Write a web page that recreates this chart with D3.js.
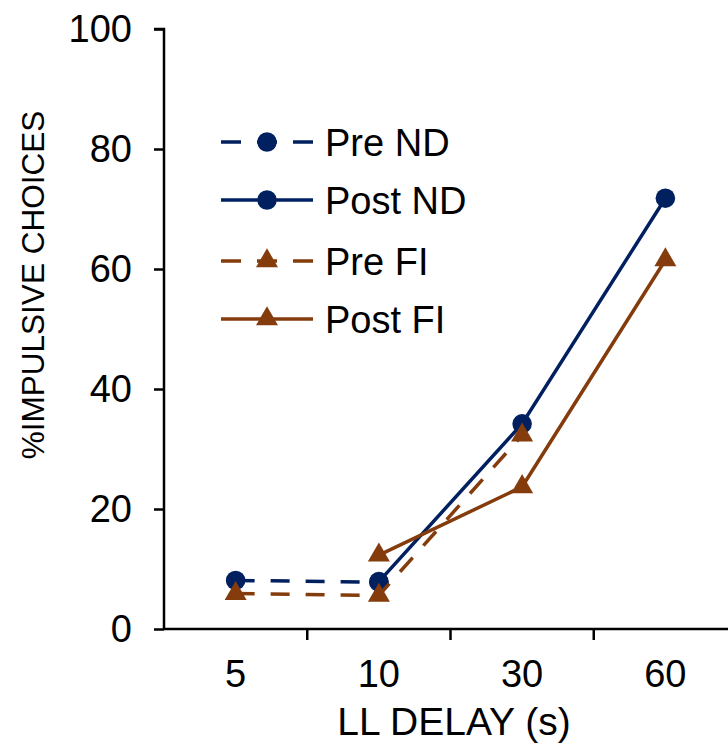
<html>

<head>
	<title>Impulsive choices</title>
	<script type="text/javascript" src="https://cdn.jsdelivr.net/npm/d3@7"></script>
	<style>
		body { margin: 0; background: #fff; }
		text { font-family: "Liberation Sans", Arial, sans-serif; fill: #000; }
	</style>
</head>

<body>
	<script type="text/javascript">
		// Data
		const delays = ["5", "10", "30", "60"];
		const yTicks = [0, 20, 40, 60, 80, 100];
		const preND = [8.1, 7.8, null, null];
		const postND = [null, 7.9, 34.2, 71.8];
		const preFI = [5.9, 5.6, 32.3, null];
		const postFI = [null, 12.3, 23.7, 61.5];

		const seriesNames = ["Pre ND", "Post ND", "Pre FI", "Post FI"];
		const seriesValues = [preND, postND, preFI, postFI];

		const navy = "#002060";
		const brown = "#843c0c";

		const w = 728;
		const h = 753;

		const svg = d3.select("body")
			.append("svg")
			.attr("width", w)
			.attr("height", h);

		// scales
		const xScale = d3.scaleBand()
			.domain(delays)
			.range([164, 737]);

		const yScale = d3.scaleLinear()
			.domain([0, 100])
			.range([629, 29]);

		// y axis
		const yAxis = svg.append("g")
			.attr("transform", "translate(164,0)")
			.call(d3.axisLeft(yScale).tickValues(yTicks).tickSize(10).tickPadding(22));
		yAxis.select(".domain").attr("stroke", "#000").attr("stroke-width", 2.5)
			.attr("d", "M-10," + yScale(100) + "H0V" + yScale(0));
		yAxis.selectAll(".tick line").attr("stroke", "#000").attr("stroke-width", 2.5);
		yAxis.selectAll(".tick text")
			.attr("font-size", 38)
			.attr("font-family", "Liberation Sans, Arial, sans-serif");

		// x axis: ticks sit between the categories
		const xAxis = svg.append("g")
			.attr("transform", "translate(0,629)");
		xAxis.append("line")
			.attr("x1", 164).attr("x2", w)
			.attr("stroke", "#000").attr("stroke-width", 2.5);
		xAxis.selectAll(".sep")
			.data(delays)
			.enter()
			.append("line")
			.attr("class", "sep")
			.attr("x1", function(d) { return xScale(d) + xScale.bandwidth(); })
			.attr("x2", function(d) { return xScale(d) + xScale.bandwidth(); })
			.attr("y1", 0).attr("y2", 11)
			.attr("stroke", "#000").attr("stroke-width", 2.5);
		xAxis.selectAll(".lab")
			.data(delays)
			.enter()
			.append("text")
			.attr("class", "lab")
			.attr("x", function(d) { return xScale(d) + xScale.bandwidth() / 2; })
			.attr("y", 58)
			.attr("text-anchor", "middle")
			.attr("font-size", 38)
			.text(function(d) { return d; });

		// axis titles
		svg.append("text")
			.attr("x", 454)
			.attr("y", 735)
			.attr("text-anchor", "middle")
			.attr("font-size", 39)
			.text("LL DELAY (s)");

		svg.append("text")
			.attr("transform", "translate(44,285) rotate(-90)")
			.attr("text-anchor", "middle")
			.attr("font-size", 31.5)
			.text("%IMPULSIVE CHOICES");

		const colors = [navy, navy, brown, brown];
		const dashed = [true, false, true, false];
		const shapes = ["circle", "circle", "triangle", "triangle"];

		const cx = function(i) { return xScale(delays[i]) + xScale.bandwidth() / 2; };

		const line = d3.line()
			.defined(function(d) { return d != null; })
			.x(function(d, i) { return cx(i); })
			.y(function(d) { return yScale(d); });

		const circleSym = d3.symbol().type(d3.symbolCircle).size(300);
		const triSym = d3.symbol().type(d3.symbolTriangle).size(210);

		// draw series in order: lines then markers per series
		for (let s = 0; s < seriesValues.length; s++) {
			const vals = seriesValues[s];
			svg.append("path")
				.attr("d", line(vals))
				.attr("fill", "none")
				.attr("stroke", colors[s])
				.attr("stroke-width", 3.5)
				.attr("stroke-dasharray", dashed[s] ? "19,16" : null);

			const pts = [];
			for (let i = 0; i < vals.length; i++) {
				if (vals[i] != null) pts.push({ i: i, v: vals[i] });
			}
			svg.selectAll(".m" + s)
				.data(pts)
				.enter()
				.append("path")
				.attr("class", "m" + s)
				.attr("transform", function(d) { return "translate(" + cx(d.i) + "," + yScale(d.v) + ")"; })
				.attr("d", shapes[s] == "circle" ? circleSym() : triSym())
				.attr("fill", colors[s]);
		}

		// legend
		const legendY = [142, 200, 261, 319];
		const legend = svg.selectAll(".leg")
			.data(seriesNames)
			.enter()
			.append("g")
			.attr("class", "leg")
			.attr("transform", function(d, i) { return "translate(0," + legendY[i] + ")"; });

		legend.append("line")
			.attr("x1", 221).attr("x2", 313)
			.attr("stroke", function(d, i) { return colors[i]; })
			.attr("stroke-width", 3.5)
			.attr("stroke-dasharray", function(d, i) { return dashed[i] ? "20,16" : null; });

		legend.append("path")
			.attr("transform", "translate(267,0)")
			.attr("d", function(d, i) { return shapes[i] == "circle" ? circleSym() : triSym(); })
			.attr("fill", function(d, i) { return colors[i]; });

		legend.append("text")
			.attr("x", 325)
			.attr("y", 14)
			.attr("font-size", 38)
			.text(function(d) { return d; });
	</script>
</body>

</html>
